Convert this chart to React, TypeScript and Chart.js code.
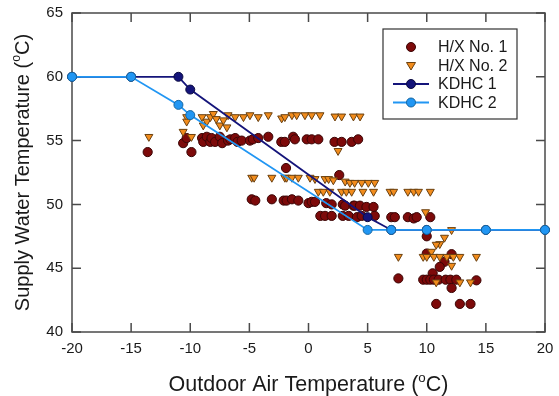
import React, { useEffect, useRef } from "react";
import { Chart, registerables } from "chart.js";
Chart.register(...registerables);

// ---- data ----
const hx1Points: number[][] = [
  [-13.6, 54.1], [-9.9, 54.1],
  [-10.6, 54.8], [-10.3, 55.2], [-9.0, 55.2], [-8.9, 54.9], [-8.6, 55.3], [-8.3, 54.9], [-8.2, 55.2], [-7.9, 54.9],
  [-7.5, 55.3], [-7.3, 54.8], [-6.8, 55.0], [-6.6, 55.1], [-6.2, 55.2], [-6.0, 54.9], [-5.65, 55.0], [-4.95, 55.0],
  [-4.7, 55.1], [-4.25, 55.2], [-3.4, 55.3], [-2.3, 54.9], [-2.0, 54.9], [-1.3, 55.3], [-1.15, 55.1], [-0.15, 55.1],
  [0.27, 55.1], [0.83, 55.1], [2.2, 54.9], [2.8, 54.9], [3.65, 54.9], [4.2, 55.1],
  [-1.9, 52.85], [2.6, 52.3],
  [-4.8, 50.4], [-4.5, 50.3], [-3.1, 50.4], [-2.1, 50.3], [-1.85, 50.3], [-1.4, 50.4], [-0.86, 50.3], [0.0, 50.1],
  [0.27, 50.2], [0.55, 50.2], [1.5, 50.1], [1.96, 50.0], [2.9, 50.0], [3.1, 49.9], [3.8, 49.9], [3.9, 49.9],
  [4.35, 49.9], [4.9, 49.8], [5.5, 49.8],
  [1.0, 49.1], [1.4, 49.1], [1.96, 49.1], [2.9, 49.1], [3.4, 49.1], [4.1, 49.0], [4.5, 49.1], [5.6, 49.1],
  [7.0, 49.0], [7.3, 49.0], [8.4, 49.0], [8.9, 48.9], [9.15, 49.0], [10.3, 49.0],
  [10.0, 47.5], [12.1, 46.1], [11.5, 45.5], [11.1, 45.1], [10.0, 46.15], [10.5, 44.6], [7.6, 44.2],
  [9.7, 44.1], [10.0, 44.1], [10.3, 44.1], [10.6, 44.1], [11.0, 44.1], [11.6, 44.1], [12.0, 44.1], [12.5, 44.1], [14.2, 44.05],
  [12.1, 43.45], [10.8, 42.2], [12.8, 42.2], [13.7, 42.2],
];

const hx2Points: number[][] = [
  [-13.5, 55.3], [-9.9, 55.3], [-10.6, 55.7], [-10.3, 56.85], [-10.3, 56.5], [-9.0, 56.85], [-8.9, 56.2], [-8.6, 56.5],
  [-8.3, 56.85], [-8.05, 57.1], [-7.8, 56.7], [-7.5, 56.2], [-7.2, 56.6], [-6.9, 56.05], [-6.8, 57.0], [-6.2, 56.85],
  [-5.5, 56.85], [-4.95, 57.0], [-4.25, 56.85], [-3.4, 57.0], [-2.27, 56.75], [-2.0, 56.85], [-1.4, 57.0], [-1.0, 57.0],
  [-0.3, 57.0], [0.27, 57.0], [0.97, 57.0], [2.24, 56.9], [2.8, 56.9], [3.8, 56.9], [4.36, 56.9], [2.5, 54.2],
  [-4.8, 52.1], [-4.6, 52.1], [-3.1, 52.1], [-2.0, 52.1], [-1.85, 52.1], [-1.4, 52.1], [-0.86, 52.1], [0.13, 52.1],
  [0.55, 52.0], [1.4, 52.0], [1.7, 52.0], [2.1, 51.9], [3.1, 51.8], [3.5, 51.7], [3.9, 51.7], [4.5, 51.7], [5.06, 51.7], [5.6, 51.7],
  [0.83, 51.0], [1.25, 51.0], [1.8, 51.0], [2.8, 51.0], [3.2, 51.0], [3.65, 51.0], [4.6, 51.0], [5.5, 51.0],
  [6.9, 51.0], [7.2, 51.0], [8.4, 51.0], [8.9, 51.0], [9.3, 51.0], [10.3, 51.0],
  [9.9, 49.4], [12.1, 48.0], [11.5, 47.4], [11.1, 46.9], [10.8, 46.85], [10.4, 46.3], [7.6, 45.9],
  [9.7, 45.9], [10.0, 45.9], [10.6, 45.9], [11.1, 45.9], [11.7, 45.9], [12.25, 45.9], [12.8, 45.9], [14.2, 45.9],
  [12.1, 45.2], [10.8, 43.9], [12.8, 43.9], [13.7, 43.9],
];

const kdhc1X = [-20, -15, -11, -10, 5, 7, 10, 15, 20];
const kdhc1Y = [60, 60, 60, 59, 49, 48, 48, 48, 48];
const kdhc2X = [-20, -15, -11, -10, 5, 7, 10, 15, 20];
const kdhc2Y = [60, 60, 57.8, 57, 48, 48, 48, 48, 48];

const xTicks = [-20, -15, -10, -5, 0, 5, 10, 15, 20];
const yTicks = [40, 45, 50, 55, 60, 65];
const seriesNames = ["H/X No. 1", "H/X No. 2", "KDHC 1", "KDHC 2"];
const xTitleParts = ["Outdoor Air Temperature (", "o", "C)"];
const yTitleParts = ["Supply Water Temperature (", "o", "C)"];

// ---- styles ----
const FONT = "'Liberation Sans', Arial, sans-serif";
const C_HX1 = "#7d0a0a";
const C_HX1_B = "#3a0505";
const C_HX2 = "#f28c1c";
const C_HX2_B = "#6a4010";
const C_K1 = "#14147a";
const C_K2 = "#2196f3";
const AXIS = "#4a4a4a";

function drawSupText(ctx: CanvasRenderingContext2D, parts: string[], cx: number, cy: number, size: number) {
  const supSize = size * 0.62;
  ctx.font = `${size}px ${FONT}`;
  const w0 = ctx.measureText(parts[0]).width;
  const w2 = ctx.measureText(parts[2]).width;
  ctx.font = `${supSize}px ${FONT}`;
  const w1 = ctx.measureText(parts[1]).width;
  const total = w0 + w1 + w2;
  let x = cx - total / 2;
  ctx.textAlign = "left";
  ctx.textBaseline = "middle";
  ctx.fillStyle = "#1a1a1a";
  ctx.font = `${size}px ${FONT}`;
  ctx.fillText(parts[0], x, cy);
  x += w0;
  ctx.font = `${supSize}px ${FONT}`;
  ctx.fillText(parts[1], x, cy - size * 0.33);
  x += w1;
  ctx.font = `${size}px ${FONT}`;
  ctx.fillText(parts[2], x, cy);
}

const framePlugin = {
  id: "frame",
  beforeDatasetsDraw(chart: any) {
    const { ctx, chartArea: a, scales } = chart;
    ctx.save();
    ctx.strokeStyle = AXIS;
    ctx.lineWidth = 1.5;
    ctx.strokeRect(a.left, a.top, a.right - a.left, a.bottom - a.top);
    const tl = 9;
    ctx.beginPath();
    xTicks.forEach((t) => {
      const px = scales.x.getPixelForValue(t);
      ctx.moveTo(px, a.bottom);
      ctx.lineTo(px, a.bottom - tl);
      ctx.moveTo(px, a.top);
      ctx.lineTo(px, a.top + tl);
    });
    yTicks.forEach((t) => {
      const py = scales.y.getPixelForValue(t);
      ctx.moveTo(a.left, py);
      ctx.lineTo(a.left + tl, py);
      ctx.moveTo(a.right, py);
      ctx.lineTo(a.right - tl, py);
    });
    ctx.stroke();
    ctx.restore();
  },
  afterDraw(chart: any) {
    const { ctx, chartArea: a } = chart;
    ctx.save();
    // axis titles
    drawSupText(ctx, xTitleParts, (a.left + a.right) / 2, 385, 21.5);
    ctx.save();
    ctx.translate(23, (a.top + a.bottom) / 2);
    ctx.rotate(-Math.PI / 2);
    drawSupText(ctx, yTitleParts, 0, 0, 20);
    ctx.restore();

    // legend
    const bx = 383, by = 29, bw = 134, bh = 90;
    ctx.fillStyle = "#ffffff";
    ctx.fillRect(bx, by, bw, bh);
    ctx.strokeStyle = "#333333";
    ctx.lineWidth = 1.2;
    ctx.strokeRect(bx, by, bw, bh);
    const rows = [47, 65.5, 84, 102.5];
    const mx = 411;
    const tx = 438;
    ctx.font = `16px ${FONT}`;
    ctx.textAlign = "left";
    ctx.textBaseline = "middle";
    rows.forEach((ry, i) => {
      if (i === 0) {
        ctx.beginPath();
        ctx.arc(mx, ry, 4.5, 0, Math.PI * 2);
        ctx.fillStyle = C_HX1;
        ctx.fill();
        ctx.strokeStyle = C_HX1_B;
        ctx.lineWidth = 1;
        ctx.stroke();
      } else if (i === 1) {
        ctx.beginPath();
        ctx.moveTo(mx - 4.5, ry - 3);
        ctx.lineTo(mx + 4.5, ry - 3);
        ctx.lineTo(mx, ry + 4.5);
        ctx.closePath();
        ctx.fillStyle = C_HX2;
        ctx.fill();
        ctx.strokeStyle = C_HX2_B;
        ctx.lineWidth = 1;
        ctx.stroke();
      } else {
        const col = i === 2 ? C_K1 : C_K2;
        ctx.beginPath();
        ctx.moveTo(393, ry);
        ctx.lineTo(429, ry);
        ctx.strokeStyle = col;
        ctx.lineWidth = 1.8;
        ctx.stroke();
        ctx.beginPath();
        ctx.arc(mx, ry, 4.5, 0, Math.PI * 2);
        ctx.fillStyle = col;
        ctx.fill();
        ctx.strokeStyle = i === 2 ? "#0a0a40" : "#1565a0";
        ctx.lineWidth = 1;
        ctx.stroke();
      }
      ctx.fillStyle = "#1a1a1a";
      ctx.fillText(seriesNames[i], tx, ry + 1);
    });
    ctx.restore();
  },
};

export default function App() {
  const ref = useRef<HTMLCanvasElement | null>(null);
  useEffect(() => {
    if (!ref.current) return;
    const toXY = (pts: number[][]) => pts.map((p) => ({ x: p[0], y: p[1] }));
    const zip = (xs: number[], ys: number[]) => xs.map((x, i) => ({ x, y: ys[i] }));
    const chart = new Chart(ref.current, {
      type: "scatter",
      data: {
        datasets: [
          {
            label: seriesNames[3],
            data: zip(kdhc2X, kdhc2Y),
            showLine: true,
            borderColor: C_K2,
            backgroundColor: C_K2,
            borderWidth: 1.8,
            pointRadius: 4.5,
            pointBorderWidth: 1,
            pointBorderColor: "#1565a0",
            pointBackgroundColor: C_K2,
            clip: false,
            order: 0,
          } as any,
          {
            label: seriesNames[2],
            data: zip(kdhc1X, kdhc1Y),
            showLine: true,
            borderColor: C_K1,
            backgroundColor: C_K1,
            borderWidth: 1.8,
            pointRadius: 4.5,
            pointBorderWidth: 1,
            pointBorderColor: "#0a0a40",
            pointBackgroundColor: C_K1,
            clip: false,
            order: 1,
          } as any,
          {
            label: seriesNames[1],
            data: toXY(hx2Points),
            pointStyle: "triangle",
            rotation: 180,
            pointRadius: 4.6,
            pointBorderWidth: 1,
            pointBackgroundColor: C_HX2,
            pointBorderColor: C_HX2_B,
            order: 2,
          } as any,
          {
            label: seriesNames[0],
            data: toXY(hx1Points),
            pointStyle: "circle",
            pointRadius: 4.6,
            pointBorderWidth: 1,
            pointBackgroundColor: C_HX1,
            pointBorderColor: C_HX1_B,
            order: 3,
          } as any,
        ],
      },
      options: {
        animation: false,
        responsive: false,
        maintainAspectRatio: false,
        events: [],
        layout: { padding: { top: 13, right: 14, left: 0, bottom: 0 } },
        plugins: { legend: { display: false }, tooltip: { enabled: false }, title: { display: false } },
        scales: {
          x: {
            type: "linear",
            min: -20,
            max: 20,
            afterBuildTicks: (s: any) => { s.ticks = xTicks.map((v) => ({ value: v })); },
            afterFit: (s: any) => { s.height = 64; s.paddingLeft = 0; s.paddingRight = 0; },
            grid: { display: false, drawTicks: false },
            border: { display: false },
            ticks: { font: { family: FONT, size: 15 }, color: "#1a1a1a", padding: 8, maxRotation: 0 },
          },
          y: {
            type: "linear",
            min: 40,
            max: 65,
            afterBuildTicks: (s: any) => { s.ticks = yTicks.map((v) => ({ value: v })); },
            afterFit: (s: any) => { s.width = 72; s.paddingTop = 0; s.paddingBottom = 0; },
            grid: { display: false, drawTicks: false },
            border: { display: false },
            ticks: { font: { family: FONT, size: 15 }, color: "#1a1a1a", padding: 9 },
          },
        },
      } as any,
      plugins: [framePlugin],
    });
    return () => chart.destroy();
  }, []);
  return (
    <div style={{ position: "absolute", left: 0, top: 0, width: 559, height: 396, background: "#fff" }}>
      <canvas ref={ref} width={559} height={396} style={{ display: "block" }} />
    </div>
  );
}
